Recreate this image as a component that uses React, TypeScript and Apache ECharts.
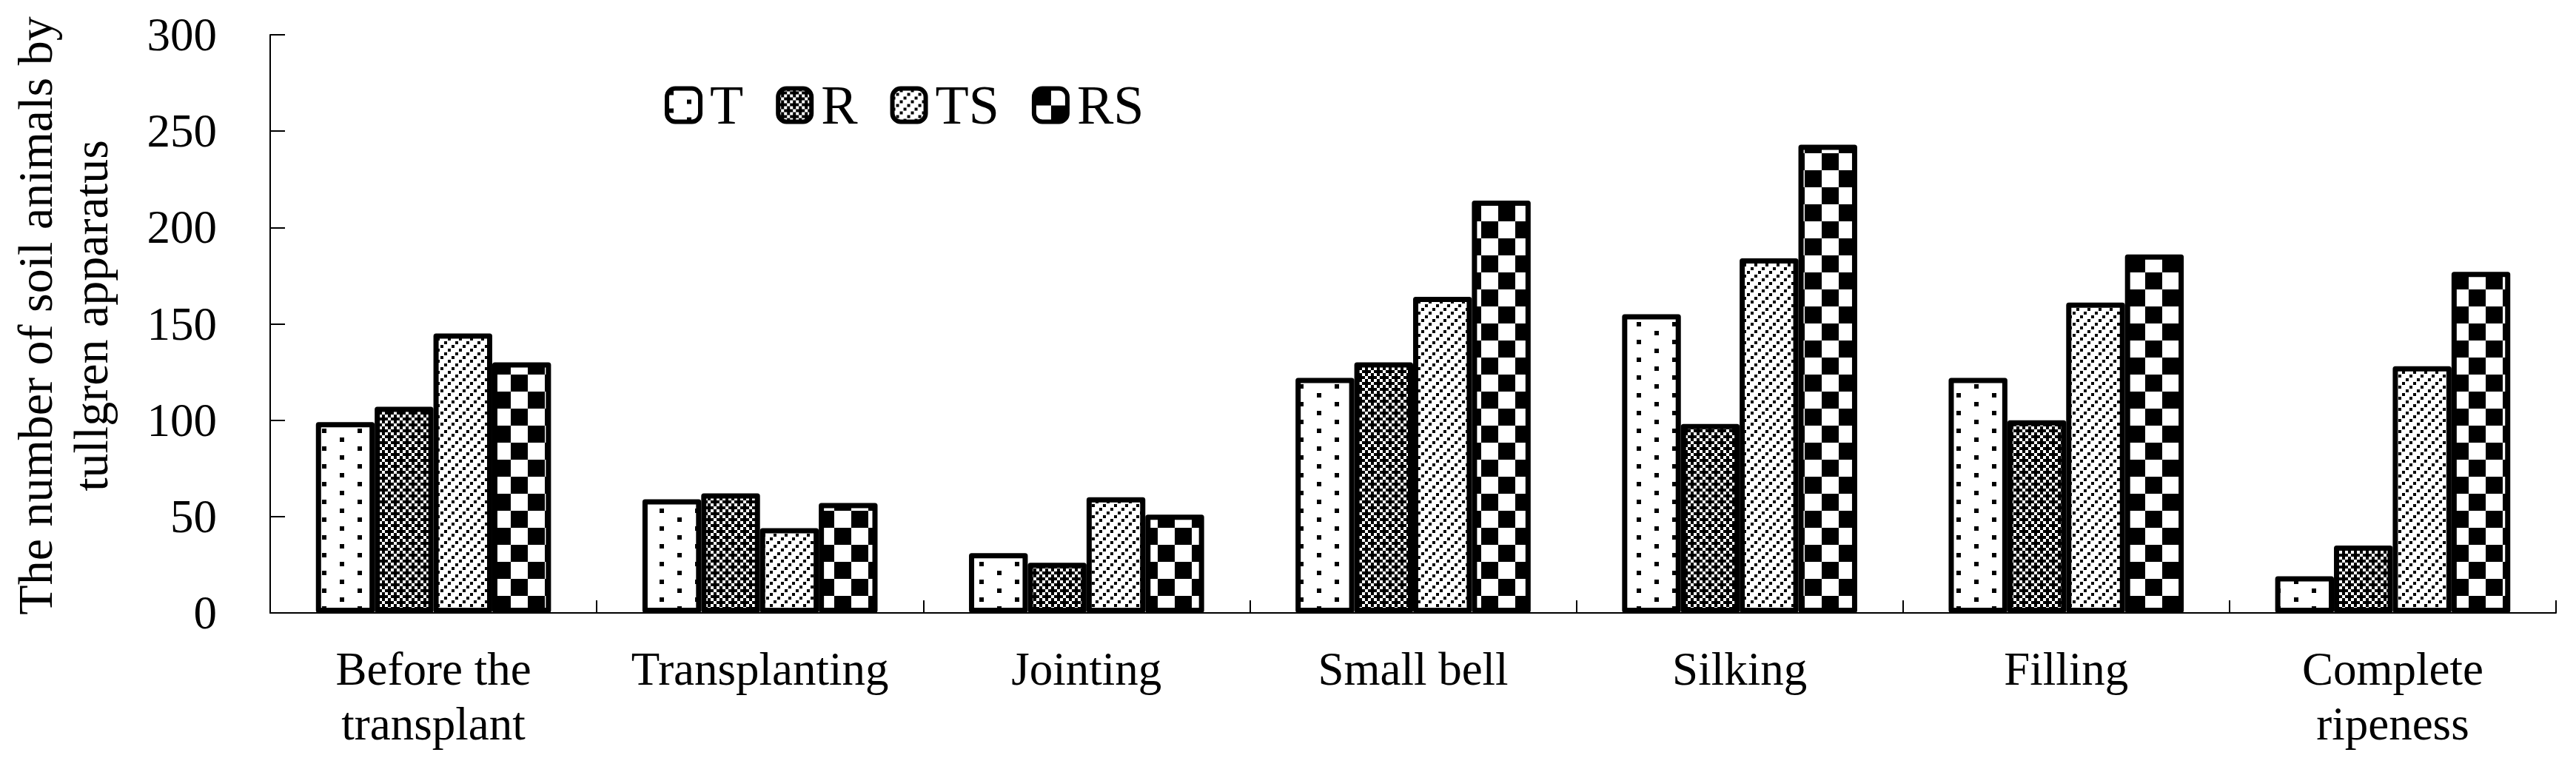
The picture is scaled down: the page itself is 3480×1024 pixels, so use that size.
import React, { useEffect, useRef } from 'react';
import * as echarts from 'echarts';

const categories = [
  'Before the\ntransplant',
  'Transplanting',
  'Jointing',
  'Small bell',
  'Silking',
  'Filling',
  'Complete\nripeness',
];
const seriesNames = ['T', 'R', 'TS', 'RS'];
const valuesT = [99, 59, 31, 122, 155, 122, 19];
const valuesR = [107, 62, 26, 130, 98, 100, 35];
const valuesTS = [145, 44, 60, 164, 184, 161, 128];
const valuesRS = [130, 57, 51, 214, 243, 186, 177];
const yMin = 0;
const yMax = 300;
const yInterval = 50;
const yAxisTitle = 'The number of soil animals by\ntullgren apparatus';

const FONT = "'Liberation Serif', 'Times New Roman', serif";

function makePattern(w: number, h: number, draw: (ctx: CanvasRenderingContext2D) => void) {
  const c = document.createElement('canvas');
  c.width = w;
  c.height = h;
  const ctx = c.getContext('2d')!;
  ctx.fillStyle = '#ffffff';
  ctx.fillRect(0, 0, w, h);
  ctx.fillStyle = '#000000';
  draw(ctx);
  return { image: c, repeat: 'repeat', imageWidth: w, imageHeight: h } as any;
}

function buildPatterns() {
  // T: sparse staggered dots
  const pT = makePattern(48, 24, (ctx) => {
    ctx.fillRect(3, 3, 6, 6);
    ctx.fillRect(27, 15, 6, 6);
  });
  // R: dense crosses
  const pR = makePattern(16, 16, (ctx) => {
    ctx.fillRect(0, 0, 16, 16);
    ctx.fillStyle = '#ffffff';
    const s = 4;
    const whites = [
      [0, 0], [2, 0], [0, 2], [2, 2], [1, 3], [3, 1],
    ];
    whites.forEach(([cx, cy]) => ctx.fillRect(cx * s, cy * s, s, s));
  });
  // TS: dotted diagonal lines "/"
  const pTS = makePattern(15, 15, (ctx) => {
    ctx.fillRect(0, 11, 4, 4);
    ctx.fillRect(5, 6, 4, 4);
    ctx.fillRect(10, 1, 4, 4);
  });
  // RS: big checkerboard
  const pRS = makePattern(46, 46, (ctx) => {
    ctx.fillRect(0, 0, 23, 23);
    ctx.fillRect(23, 23, 23, 23);
  });
  return [pT, pR, pTS, pRS];
}

export default function App() {
  const ref = useRef<HTMLDivElement>(null);

  useEffect(() => {
    if (!ref.current) return;
    document.body.style.margin = '0';
    const chart = echarts.init(ref.current, null, { renderer: 'svg' });
    const patterns = buildPatterns();
    const dataSets = [valuesT, valuesR, valuesTS, valuesRS];

    const option: any = {
      animation: false,
      backgroundColor: '#ffffff',
      grid: { left: 365, right: 27, top: 47, bottom: 196 },
      legend: {
        data: seriesNames,
        left: 893,
        top: 100,
        icon: 'roundRect',
        itemWidth: 45,
        itemHeight: 45,
        itemGap: 44,
        itemStyle: { borderWidth: 6, borderColor: '#000000' },
        textStyle: {
          fontFamily: FONT,
          fontSize: 74,
          color: '#000000',
          padding: [0, 0, 0, 8],
        },
      },
      xAxis: {
        type: 'category',
        data: categories,
        boundaryGap: true,
        axisLine: { show: true, lineStyle: { color: '#000000', width: 2 } },
        axisTick: {
          show: true,
          inside: true,
          length: 17,
          interval: 0,
          lineStyle: { color: '#000000', width: 2 },
        },
        axisLabel: {
          interval: 0,
          margin: 39,
          fontFamily: FONT,
          fontSize: 63,
          lineHeight: 74,
          color: '#000000',
        },
        splitLine: { show: false },
      },
      yAxis: {
        type: 'value',
        min: yMin,
        max: yMax,
        interval: yInterval,
        name: yAxisTitle,
        nameLocation: 'middle',
        nameGap: 205,
        nameTextStyle: {
          fontFamily: FONT,
          fontSize: 66,
          lineHeight: 75,
          color: '#000000',
          align: 'center',
          padding: [0, 0, 0, 22],
        },
        axisLine: { show: true, lineStyle: { color: '#000000', width: 2 } },
        axisTick: {
          show: true,
          inside: true,
          length: 20,
          lineStyle: { color: '#000000', width: 2 },
        },
        axisLabel: {
          margin: 72,
          fontFamily: FONT,
          fontSize: 63,
          color: '#000000',
        },
        splitLine: { show: false },
      },
      series: seriesNames.map((name, i) => ({
        name,
        type: 'bar',
        data: dataSets[i],
        barGap: '0%',
        barCategoryGap: '28%',
        itemStyle: {
          color: patterns[i],
          borderColor: '#000000',
          borderWidth: 7,
          borderJoin: 'round',
        },
        emphasis: { disabled: true },
      })),
    };
    chart.setOption(option);
    return () => chart.dispose();
  }, []);

  return (
    <div
      ref={ref}
      style={{ position: 'fixed', left: 0, top: 0, width: 3480, height: 1024, background: '#fff' }}
    />
  );
}
